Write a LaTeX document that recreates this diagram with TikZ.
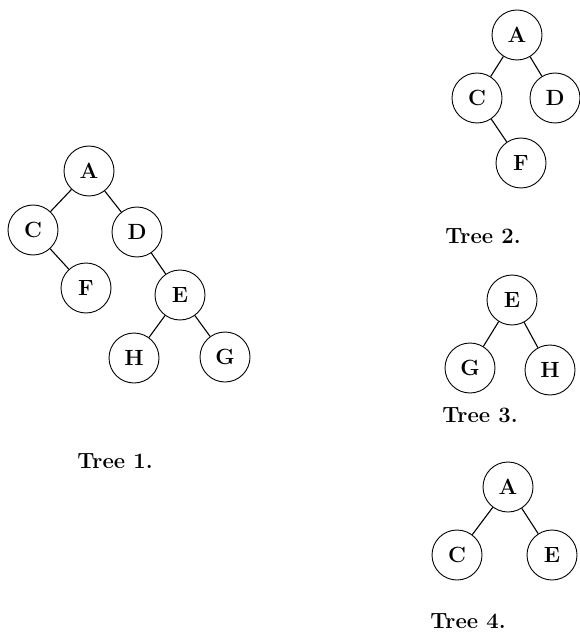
\documentclass[tikz,border=0pt]{standalone}
\usepackage{fix-cm}
\begin{document}
\begin{tikzpicture}[x=1pt, y=-1pt]
    \tikzset{
      vertex/.style={circle, draw, line width=0.9pt, minimum size=50pt, inner sep=0pt,
        font=\fontsize{22}{22}\selectfont\bfseries},
      caption/.style={font=\fontsize{22}{22}\selectfont\bfseries},
      branch/.style={line width=1.1pt}
    }
    \useasboundingbox (0,0) rectangle (579,636);

    % Tree 1
    \foreach \n/\x/\y in {A/89/171, C/33/230, D/137/232, F/86/288, E/180/295, H/134/358, G/225/357}
      \node [vertex] (t1-\n) at (\x,\y) {\n};
    \foreach \a/\b in {A/C, A/D, C/F, D/E, E/H, E/G}
      \draw [branch] (t1-\a) -- (t1-\b);
    \node [caption] (cap1) at (115,461) {Tree 1.};

    % Tree 2
    \foreach \n/\x/\y in {A/517/35, C/477/98, D/555/98, F/521/163}
      \node [vertex] (t2-\n) at (\x,\y) {\n};
    \foreach \a/\b in {A/C, A/D, C/F}
      \draw [branch] (t2-\a) -- (t2-\b);
    \node [caption] (cap2) at (483,236) {Tree 2.};

    % Tree 3
    \foreach \n/\x/\y in {E/512/300, G/470/368, H/550/370}
      \node [vertex] (t3-\n) at (\x,\y) {\n};
    \foreach \a/\b in {E/G, E/H}
      \draw [branch] (t3-\a) -- (t3-\b);
    \node [caption] (cap3) at (480,415) {Tree 3.};

    % Tree 4
    \foreach \n/\x/\y in {A/508/487, C/457/555, E/552/555}
      \node [vertex] (t4-\n) at (\x,\y) {\n};
    \foreach \a/\b in {A/C, A/E}
      \draw [branch] (t4-\a) -- (t4-\b);
    \node [caption] (cap4) at (468,621) {Tree 4.};

\end{tikzpicture}
\end{document}
